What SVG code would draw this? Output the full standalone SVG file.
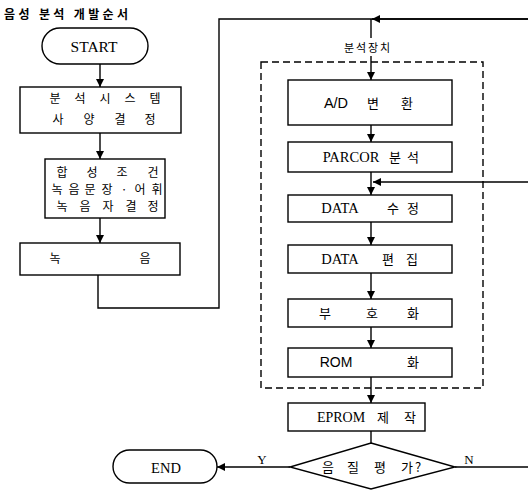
<svg xmlns="http://www.w3.org/2000/svg" width="528" height="490" viewBox="0 0 528 490">
<style>
.box{fill:#fff;stroke:#000;stroke-width:1.4}
.ln{fill:none;stroke:#000;stroke-width:1.4}
.dash{fill:none;stroke:#000;stroke-width:1.4;stroke-dasharray:7 4}
.ko{font-family:"Noto Sans CJK KR","Noto Sans",sans-serif;fill:#000}
.ser{font-family:"Liberation Serif","Noto Sans CJK KR",serif;fill:#000}
.san{font-family:"Liberation Sans","Noto Sans CJK KR",sans-serif;fill:#000}
</style>
<defs>
<marker id="ah" viewBox="0 0 10 10" refX="10" refY="5" markerWidth="8" markerHeight="8" markerUnits="userSpaceOnUse" orient="auto">
<path d="M0,0 L10,5 L0,10 z" fill="#000"/>
</marker>
</defs>
<rect width="528" height="490" fill="#fff"/>
<text class="ko" x="4" y="19" font-size="12" font-weight="bold" textLength="124">음성 분석 개발순서</text>

<g id="connectors">
<line class="ln" x1="100" y1="64" x2="100" y2="87" marker-end="url(#ah)"/>
<line class="ln" x1="100" y1="133" x2="100" y2="159" marker-end="url(#ah)"/>
<line class="ln" x1="100" y1="218" x2="100" y2="243" marker-end="url(#ah)"/>
<polyline class="ln" points="98,275 98,308 219,308 219,19 528,19"/>
<line class="ln" x1="528" y1="19" x2="372" y2="19" marker-end="url(#ah)"/>
<line class="ln" x1="371" y1="19" x2="371" y2="38"/>
<line class="ln" x1="371" y1="56" x2="371" y2="80" marker-end="url(#ah)"/>
<line class="ln" x1="371" y1="125" x2="371" y2="142" marker-end="url(#ah)"/>
<line class="ln" x1="371" y1="172" x2="371" y2="195" marker-end="url(#ah)"/>
<line class="ln" x1="528" y1="182" x2="373" y2="182" marker-end="url(#ah)"/>
<line class="ln" x1="371" y1="222" x2="371" y2="245" marker-end="url(#ah)"/>
<line class="ln" x1="371" y1="273" x2="371" y2="299" marker-end="url(#ah)"/>
<line class="ln" x1="371" y1="327" x2="371" y2="348" marker-end="url(#ah)"/>
<line class="ln" x1="371" y1="377" x2="371" y2="403" marker-end="url(#ah)"/>
<line class="ln" x1="371" y1="431" x2="371" y2="443"/>
<line class="ln" x1="290" y1="467" x2="217" y2="467" marker-end="url(#ah)"/>
<line class="ln" x1="455" y1="467" x2="528" y2="467"/>
<text class="ser" x="262" y="464" font-size="13" text-anchor="middle">Y</text>
<text class="ser" x="469" y="464" font-size="13" text-anchor="middle">N</text>
</g>

<g id="analyzer">
<rect class="dash" x="261" y="62" width="222" height="326"/>
<text class="ko" x="344" y="52" font-size="11" textLength="46">분석장치</text>
</g>

<g id="start">
<rect class="box" x="42" y="28" width="106" height="36" rx="18"/>
<text class="ser" x="94" y="51.5" font-size="15.5" text-anchor="middle">START</text>
</g>

<g id="spec">
<rect class="box" x="20" y="87" width="161" height="46"/>
<text class="ko" x="55 80 105 130 155" y="103" font-size="12" text-anchor="middle">분석시스템</text>
<text class="ko" x="58 89 120 150" y="124" font-size="12" text-anchor="middle">사양결정</text>
</g>

<g id="cond">
<rect class="box" x="45" y="159" width="120" height="59"/>
<text class="ko" x="62 92 122 153" y="177" font-size="12" text-anchor="middle">합성조건</text>
<text class="ko" x="57 74 90 107 124 140 157" y="194" font-size="12" text-anchor="middle">녹음문장·어휘</text>
<text class="ko" x="62 85 108 131 153" y="211" font-size="12" text-anchor="middle">녹음자결정</text>
</g>

<g id="record">
<rect class="box" x="20" y="243" width="160" height="32"/>
<text class="ko" x="55 145" y="263" font-size="12" text-anchor="middle">녹음</text>
</g>

<g id="ad">
<rect class="box" x="288" y="80" width="164" height="45"/>
<text class="san" x="336" y="108" font-size="14.5" text-anchor="middle">A/D</text>
<text class="ko" x="373 407" y="108" font-size="13" text-anchor="middle">변환</text>
</g>

<g id="parcor">
<rect class="box" x="288" y="142" width="164" height="30"/>
<text class="ser" x="351" y="162" font-size="14.5" text-anchor="middle">PARCOR</text>
<text class="ko" x="395 413" y="162" font-size="13" text-anchor="middle">분석</text>
</g>

<g id="fix">
<rect class="box" x="288" y="195" width="164" height="27"/>
<text class="ser" x="340" y="213" font-size="14.5" text-anchor="middle">DATA</text>
<text class="ko" x="393 413" y="213" font-size="13" text-anchor="middle">수정</text>
</g>

<g id="edit">
<rect class="box" x="288" y="245" width="164" height="28"/>
<text class="ser" x="340" y="264" font-size="14.5" text-anchor="middle">DATA</text>
<text class="ko" x="388 412" y="264" font-size="13" text-anchor="middle">편집</text>
</g>

<g id="encode">
<rect class="box" x="288" y="299" width="164" height="28"/>
<text class="ko" x="325 372 413" y="318" font-size="13" text-anchor="middle">부호화</text>
</g>

<g id="rom">
<rect class="box" x="288" y="348" width="164" height="29"/>
<text class="san" x="336" y="367" font-size="14" text-anchor="middle">ROM</text>
<text class="ko" x="413" y="367" font-size="13" text-anchor="middle">화</text>
</g>

<g id="eprom">
<rect class="box" x="288" y="403" width="137" height="28"/>
<text class="ser" x="341" y="422" font-size="14" text-anchor="middle">EPROM</text>
<text class="ko" x="383 410" y="422" font-size="13" text-anchor="middle">제작</text>
</g>

<g id="quality">
<polygon class="box" points="371,443 455,467 371,489 290,467"/>
<text class="ko" x="328 353 380 407 418" y="472" font-size="13" text-anchor="middle">음질평가?</text>
</g>

<g id="end">
<rect class="box" x="113" y="450" width="104" height="33" rx="16.5"/>
<text class="ser" x="166" y="473" font-size="14.5" text-anchor="middle">END</text>
</g>
</svg>
